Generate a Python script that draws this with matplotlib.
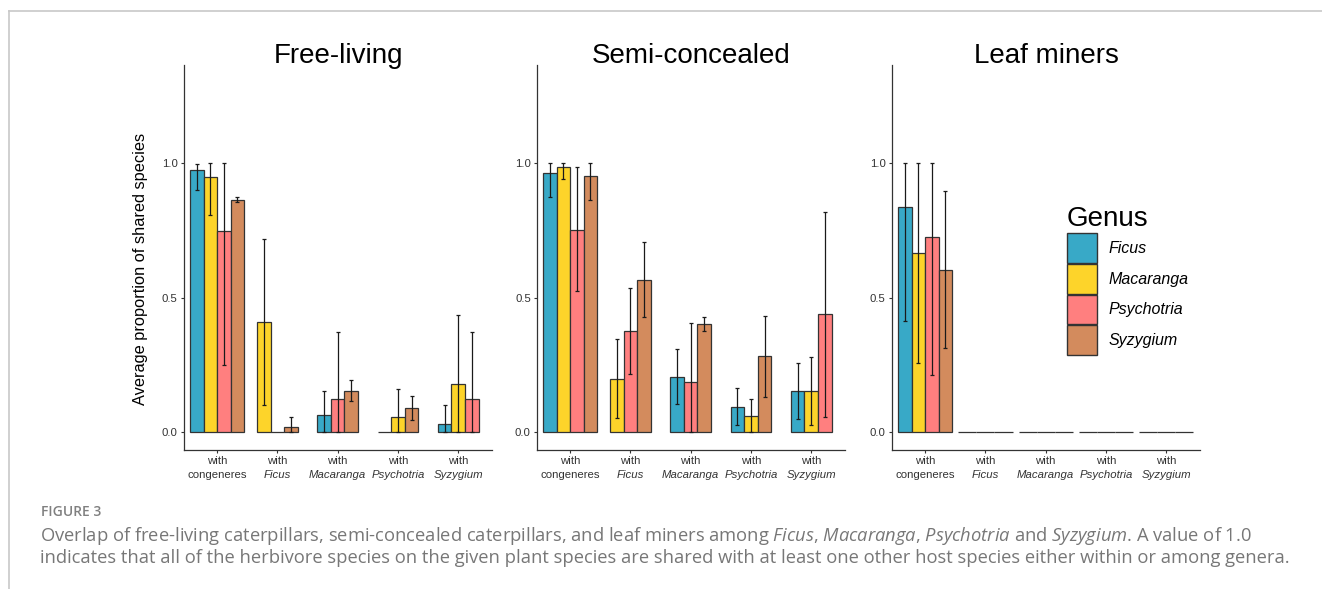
import numpy as np
import matplotlib
matplotlib.use("Agg")
import matplotlib.pyplot as plt
from matplotlib.patches import Patch
from matplotlib import transforms

plt.rcParams['font.family'] = ['Liberation Sans', 'DejaVu Sans']
plt.rcParams['mathtext.fontset'] = 'custom'
plt.rcParams['mathtext.rm'] = 'Open Sans'
plt.rcParams['mathtext.it'] = 'Open Sans:italic'

nan = np.nan

# categories on the x axis and the plant genera (fill)
groups = ["congeneres", "Ficus", "Macaranga", "Psychotria", "Syzygium"]
genera = ["Ficus", "Macaranga", "Psychotria", "Syzygium"]
colors = ["#38A9C7", "#FDD42A", "#FF7F7F", "#D38B5D"]
panel_titles = ["Free-living", "Semi-concealed", "Leaf miners"]

# rows = genera, cols = groups (nan = not plotted)
free_mean = [[0.975, nan, 0.062, 0.0, 0.030],
             [0.948, 0.408, nan, 0.056, 0.178],
             [0.748, 0.0, 0.124, nan, 0.124],
             [0.864, 0.017, 0.153, 0.089, nan]]
free_lo = [[0.901, nan, 0.0, nan, 0.0],
           [0.806, 0.099, nan, 0.0, 0.0],
           [0.250, nan, 0.0, nan, 0.0],
           [0.855, 0.0, 0.115, 0.045, nan]]
free_hi = [[0.998, nan, 0.153, nan, 0.100],
           [1.0, 0.718, nan, 0.159, 0.435],
           [1.0, nan, 0.373, nan, 0.373],
           [0.874, 0.056, 0.193, 0.135, nan]]

semi_mean = [[0.963, nan, 0.206, 0.094, 0.151],
             [0.985, 0.197, nan, 0.059, 0.151],
             [0.753, 0.376, 0.185, nan, 0.438],
             [0.951, 0.567, 0.402, 0.282, nan]]
semi_lo = [[0.874, nan, 0.104, 0.025, 0.048],
           [0.942, 0.051, nan, 0.0, 0.027],
           [0.524, 0.216, 0.0, nan, 0.057],
           [0.864, 0.429, 0.376, 0.130, nan]]
semi_hi = [[1.0, nan, 0.308, 0.163, 0.256],
           [1.0, 0.345, nan, 0.122, 0.278],
           [0.985, 0.536, 0.404, nan, 0.818],
           [1.0, 0.707, 0.429, 0.433, nan]]

leaf_mean = [[0.837, nan, 0.0, 0.0, 0.0],
             [0.666, 0.0, nan, 0.0, 0.0],
             [0.726, 0.0, 0.0, nan, 0.0],
             [0.604, 0.0, 0.0, 0.0, nan]]
leaf_lo = [[0.414, nan, nan, nan, nan],
           [0.256, nan, nan, nan, nan],
           [0.213, nan, nan, nan, nan],
           [0.311, nan, nan, nan, nan]]
leaf_hi = [[1.0, nan, nan, nan, nan],
           [1.0, nan, nan, nan, nan],
           [1.0, nan, nan, nan, nan],
           [0.896, nan, nan, nan, nan]]

panels = [(free_mean, free_lo, free_hi, True),
          (semi_mean, semi_lo, semi_hi, True),
          (leaf_mean, leaf_lo, leaf_hi, False)]

W, H = 1322, 589
fig = plt.figure(figsize=(W / 100, H / 100), dpi=100)

# page frame lines
fig.add_artist(plt.Line2D([9 / W, 1], [1 - 11 / H, 1 - 11 / H], color="#c8c8c8", lw=1.2))
fig.add_artist(plt.Line2D([9 / W, 9 / W], [0, 1 - 11 / H], color="#c8c8c8", lw=1.2))

lefts = [184, 537, 892]
ax_w, ax_top, ax_bot = 308, 65, 450
dodge = 0.9

for k, (mean, lo, hi, single) in enumerate(panels):
    ax = fig.add_axes([lefts[k] / W, 1 - ax_bot / H, ax_w / W, (ax_bot - ax_top) / H])
    mean = np.array(mean, dtype=float)
    lo = np.array(lo, dtype=float)
    hi = np.array(hi, dtype=float)
    for j in range(len(groups)):
        present = [i for i in range(len(genera)) if not np.isnan(mean[i, j])]
        n = len(present)
        w = dodge / len(genera) if single else dodge / n
        for pos, i in enumerate(present):
            x = j + 1 + (pos - (n - 1) / 2) * w
            ax.bar(x, mean[i, j], width=w, color=colors[i], edgecolor="#333333",
                   linewidth=0.9, zorder=2)
            if not np.isnan(lo[i, j]):
                ax.errorbar(x, mean[i, j],
                            yerr=[[mean[i, j] - lo[i, j]], [hi[i, j] - mean[i, j]]],
                            fmt="none", ecolor="#1a1a1a", elinewidth=0.9,
                            capsize=1.5, capthick=0.9, zorder=3)
    ax.set_xlim(0.45, 5.56)
    ax.set_ylim(-0.067, 1.365)
    ax.set_yticks([0.0, 0.5, 1.0])
    ax.set_yticklabels(["0.0", "0.5", "1.0"])
    ax.set_xticks(range(1, 6))
    ax.set_xticklabels(["with"] * 5)
    off = transforms.offset_copy(ax.get_xaxis_transform(), fig=fig, x=0, y=-20.5, units="points")
    for j, g in enumerate(groups):
        ax.text(j + 1, 0, g, transform=off, ha="center", va="baseline", fontsize=8.2,
                color="#333333", style="normal" if g == "congeneres" else "italic")
    ax.tick_params(axis="both", labelsize=8.2, labelcolor="#333333", color="#333333",
                   length=2.5, width=0.8, pad=2)
    for s in ["top", "right"]:
        ax.spines[s].set_visible(False)
    for s in ["left", "bottom"]:
        ax.spines[s].set_color("#333333")
        ax.spines[s].set_linewidth(0.9)
    ax.set_title(panel_titles[k], fontsize=20, y=1.0, pad=1.5)
    if k == 0:
        ax.set_ylabel("Average proportion of shared species", fontsize=11.8)
        ax.yaxis.set_label_coords(-0.118, 0.47)

handles = [Patch(facecolor=c, edgecolor="#333333", linewidth=1.0) for c in colors]
leg = fig.legend(handles, genera, loc="upper left",
                 bbox_to_anchor=(1067 / W, 1 - 206 / H), frameon=False,
                 title="Genus", title_fontsize=20, alignment="left",
                 prop={"size": 11.5, "style": "italic"},
                 handlelength=1.85, handleheight=2.5, labelspacing=0.06,
                 handletextpad=0.75, borderpad=0, borderaxespad=0)

fig.text(41 / W, 1 - 512 / H, "FIGURE 3", fontsize=10, color="#808080",
         family="Open Sans", weight="semibold", va="center")
cap1 = ("Overlap of free-living caterpillars, semi-concealed caterpillars, and leaf miners among "
        r"$\mathit{Ficus}$, $\mathit{Macaranga}$, $\mathit{Psychotria}$ and $\mathit{Syzygium}$. A value of 1.0")
cap2 = ("indicates that all of the herbivore species on the given plant species are shared with "
        "at least one other host species either within or among genera.")
fig.text(40 / W, 1 - 536 / H, cap1, fontsize=13.2, color="#777777", family="Open Sans", va="center")
fig.text(40 / W, 1 - 558 / H, cap2, fontsize=13.2, color="#777777", family="Open Sans", va="center")

fig.savefig("out.png", dpi=100, facecolor="white")
